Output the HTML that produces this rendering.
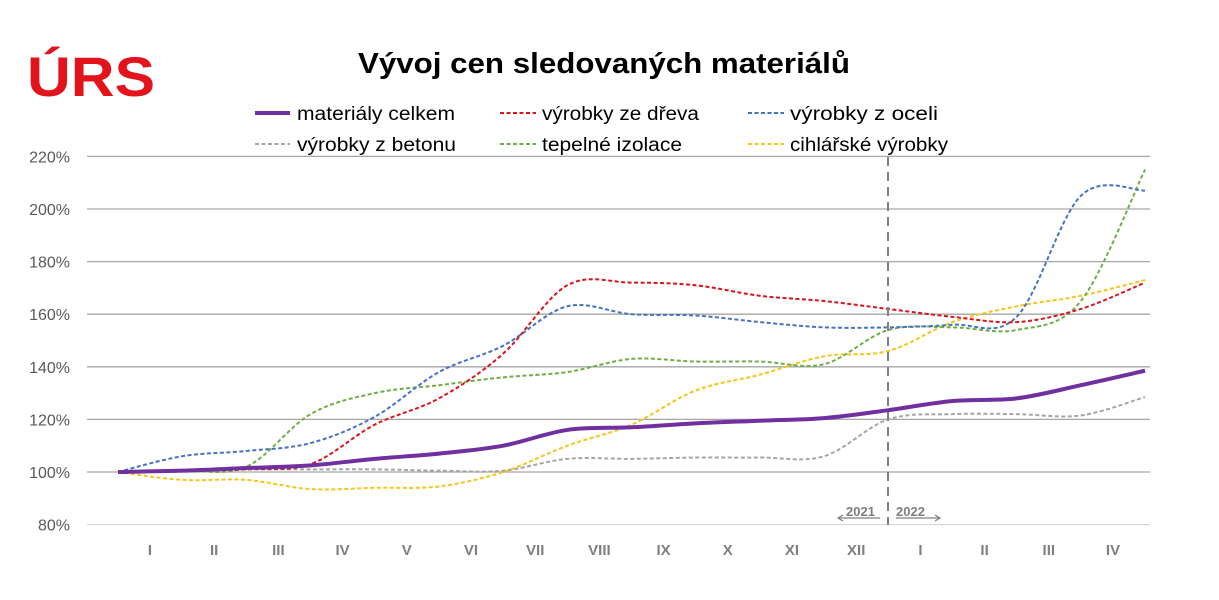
<!DOCTYPE html>
<html><head><meta charset="utf-8"><style>
body{margin:0;background:#fff;}
svg{display:block;font-family:"Liberation Sans",sans-serif;}
</style></head><body>
<svg id="c" width="1219" height="600" viewBox="0 0 1219 600">
<text x="27" y="96" font-size="56" font-weight="bold" fill="#e3131b" textLength="128" lengthAdjust="spacingAndGlyphs">ÚRS</text>
<text x="358" y="73" font-size="29" font-weight="bold" fill="#000" textLength="492" lengthAdjust="spacingAndGlyphs">Vývoj cen sledovaných materiálů</text>
<g font-size="19" fill="#000">
<line x1="255" y1="113" x2="290" y2="113" stroke="#7030a0" stroke-width="4"/>
<text x="297" y="120" textLength="158" lengthAdjust="spacingAndGlyphs">materiály celkem</text>
<line x1="500" y1="113" x2="536" y2="113" stroke="#d9141b" stroke-width="2" stroke-dasharray="4,2.5"/>
<text x="542" y="120" textLength="157" lengthAdjust="spacingAndGlyphs">výrobky ze dřeva</text>
<line x1="748" y1="113" x2="784" y2="113" stroke="#4472c4" stroke-width="2" stroke-dasharray="4,2.5"/>
<text x="790" y="120" textLength="148" lengthAdjust="spacingAndGlyphs">výrobky z oceli</text>
<line x1="255" y1="144" x2="290" y2="144" stroke="#a5a5a5" stroke-width="2" stroke-dasharray="4,2.5"/>
<text x="297" y="151" textLength="159" lengthAdjust="spacingAndGlyphs">výrobky z betonu</text>
<line x1="500" y1="144" x2="536" y2="144" stroke="#70ad47" stroke-width="2" stroke-dasharray="4,2.5"/>
<text x="542" y="151" textLength="140" lengthAdjust="spacingAndGlyphs">tepelné izolace</text>
<line x1="748" y1="144" x2="784" y2="144" stroke="#f5c518" stroke-width="2" stroke-dasharray="4,2.5"/>
<text x="790" y="151" textLength="158" lengthAdjust="spacingAndGlyphs">cihlářské výrobky</text>
</g>
<g id="grid"></g>
<g id="series"></g>
<line x1="888" y1="157" x2="888" y2="525" stroke="#808080" stroke-width="2" stroke-dasharray="9,6"/>
<g fill="#7f7f7f" font-size="13" font-weight="bold">
<text x="846" y="516">2021</text><text x="896" y="516">2022</text>
</g>
<g stroke="#7f7f7f" stroke-width="1.2" fill="none">
<line x1="838" y1="518" x2="880" y2="518"/><path d="M843,515 L838,518 L843,521"/>
<line x1="896" y1="518" x2="940" y2="518"/><path d="M935,515 L940,518 L935,521"/>
</g>
</svg>
<script>
var g=document.getElementById('grid'),s=document.getElementById('series');
function Y(v){return 472-(v-100)*2.63;}
var h='';
for(var v=80;v<=220;v+=20){var y=Y(v);h+='<line x1="87" y1="'+y+'" x2="1150" y2="'+y+'" stroke="'+(v==80?'#d9d9d9':'#a6a6a6')+'" stroke-width="1.3"/>';
h+='<text x="70" y="'+(y+6)+'" font-size="16" fill="#595959" text-anchor="end">'+v+'%</text>';}
var labs=['I','II','III','IV','V','VI','VII','VIII','IX','X','XI','XII','I','II','III','IV'];
for(var i=0;i<16;i++)h+='<text x="'+(150+64.2*i)+'" y="555" font-size="15" font-weight="bold" fill="#7f7f7f" text-anchor="middle">'+labs[i]+'</text>';
g.innerHTML=h;
var D=[
['#a5a5a5',2,'4,2.5',[100,100.5,101,101,101,100.5,100.5,105,105,105.5,105.5,106,120,122,122,121.5,128.5]],
['#f5c518',2,'4,2.5',[100,97,97,93.5,94,94.5,100,110,118,131,137,144,146,157,163,167,173]],
['#70ad47',2,'4,2.5',[100,100.5,102,122,130,133,136,138,143,142,142,141,154,155,154,165,215]],
['#4472c4',2,'4,2.5',[100,106,108,111,121,138,148,163,160,159.5,157,155,155,156,159,205,207]],
['#d9141b',2,'4,2.5',[100,100.5,101,103,118,128,145,171,172,171,167,165,162,159,157,162,172]],
['#7030a0',4,'',[100,100.5,101.5,102.5,105,107,110,116,117,118.5,119.5,120.5,123.5,127,128,133,138.5]]];
var o='';
D.forEach(function(d){var p=d[3].map(function(v,i){return [118+64.19*i,Y(v)];});
var path='M'+p[0][0]+','+p[0][1];
for(var i=0;i<p.length-1;i++){var p0=p[i-1]||p[i],p1=p[i],p2=p[i+1],p3=p[i+2]||p2;
path+=' C'+(p1[0]+(p2[0]-p0[0])/6)+','+(p1[1]+(p2[1]-p0[1])/6)+' '+(p2[0]-(p3[0]-p1[0])/6)+','+(p2[1]-(p3[1]-p1[1])/6)+' '+p2[0]+','+p2[1];}
o+='<path d="'+path+'" fill="none" stroke="'+d[0]+'" stroke-width="'+d[1]+'"'+(d[2]?' stroke-dasharray="'+d[2]+'"':'')+'/>';});
s.innerHTML=o;
</script>
</body></html>
